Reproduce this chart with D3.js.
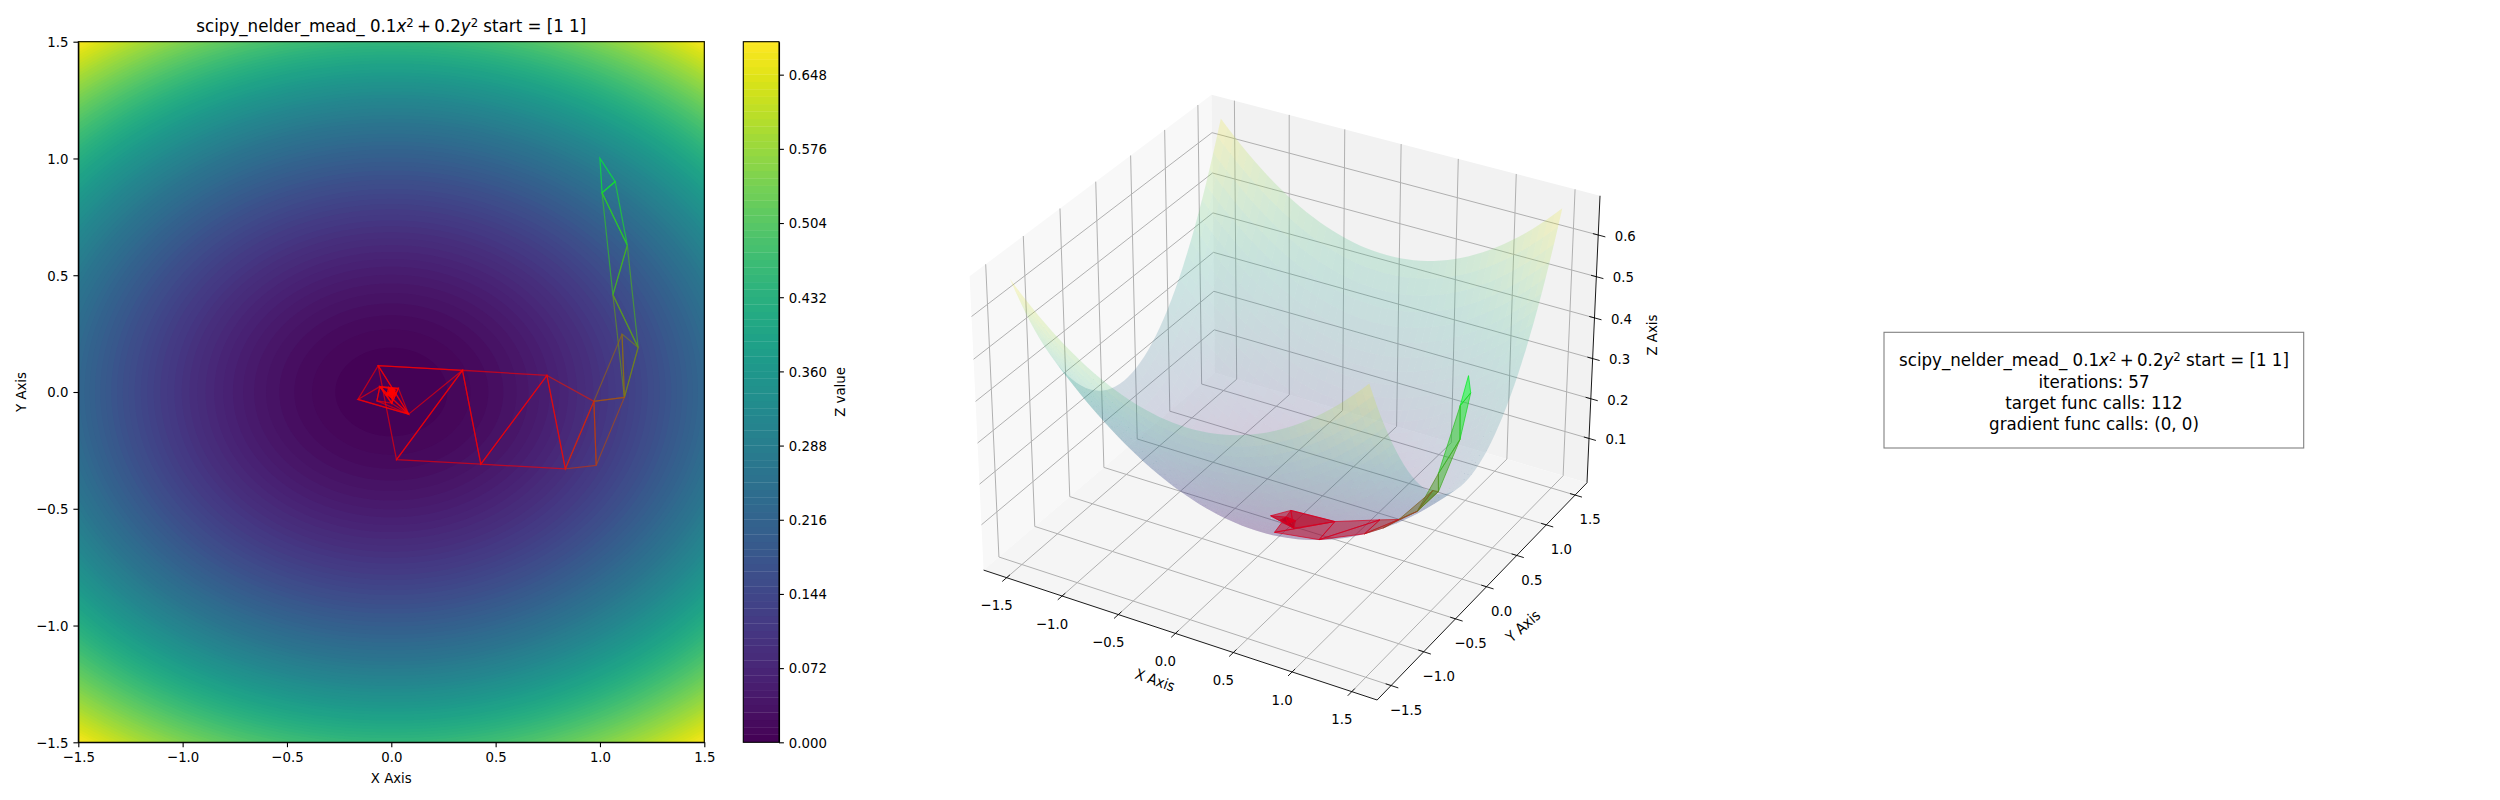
<!DOCTYPE html>
<html><head><meta charset="utf-8">
<script src="https://cdn.jsdelivr.net/npm/d3@7"></script>
<style>
html,body{margin:0;padding:0;background:#fff}
text{font-family:"DejaVu Sans",sans-serif;fill:#000}
</style></head><body>
<svg id="chart" width="2500" height="800" xmlns="http://www.w3.org/2000/svg"></svg>
<script>
// ---- data ----
const functionCoefficients = [0.1, 0.2];       // the surface named in the title: 0.1x^2 + 0.2y^2
const axisTicks = [-1.5, -1.0, -0.5, 0.0, 0.5, 1.0, 1.5];
const colorbarTicks = [0, 0.072, 0.144, 0.216, 0.288, 0.36, 0.432, 0.504, 0.576, 0.648];
const zTicks3D = [0.1, 0.2, 0.3, 0.4, 0.5, 0.6];
const colorbarMax = 0.68;
const contourStep = 0.0072;
const infoLines = ["iterations: 57", "target func calls: 112", "gradient func calls: (0, 0)"];
// Nelder-Mead vertices [x, y]
const vertices = [
 [1.000,1.000],[1.073,0.901],[1.010,0.853],[1.131,0.628],[1.062,0.416],[1.183,0.191],[1.106,0.248],
 [1.117,-0.023],[0.971,-0.040],[0.982,-0.314],[0.834,-0.329],[0.746,0.071],[0.429,-0.309],[0.341,0.093],
 [0.025,-0.290],[-0.063,0.113],[0.083,-0.095],[-0.160,-0.032],[-0.055,0.023],[-0.069,-0.038],
 [0.034,0.016],[0.002,-0.048],[0.012,0.012],[-0.022,-0.012],[0.020,-0.010],[-0.012,0.018],[0.004,-0.026],
 [0.016,0.006],[-0.014,-0.004],[0.006,0.012],[0.004,-0.012],[-0.006,0.006],[0.008,0.002],[-0.003,-0.006],
 [0.002,0.005],[0.002,-0.002],[-0.001,0.002],[0.000,0.000]
];
// simplices as vertex indices, in iteration order
const simplices = [
 [0,1,2],[1,2,3],[2,3,4],[3,4,5],[4,5,7],[5,6,7],[6,7,8],[7,8,9],[8,9,10],[8,10,11],[10,11,12],[11,12,13],
 [12,13,14],[13,14,15],[13,15,16],[15,16,17],[16,17,18],[16,18,19],[18,19,21],[18,20,21],[16,20,21],
 [18,20,22],[20,21,22],[21,22,23],[18,22,23],[22,23,24],[23,24,25],[22,24,25],[24,25,26],[23,25,26],
 [24,26,27],[25,26,27],[26,27,28],[25,27,28],[27,28,29],[26,28,30],[28,29,30],[27,29,30],[29,30,31],
 [28,30,31],[30,31,32],[29,31,32],[31,32,33],[30,32,33],[32,33,34],[31,33,34],[33,34,35],[32,34,35],
 [34,35,36],[33,35,36],[35,36,37],[34,36,37],[33,36,37],[35,36,37],[34,35,37],[33,35,37],[36,37,35]
];

// ---- helpers ----
const svg = d3.select("#chart");
const fZ = (x, y) => functionCoefficients[0]*x*x + functionCoefficients[1]*y*y;
const simplexColor = d3.scaleLinear().domain([0, 10]).range(["#00ff22", "#ff0000"]).clamp(true);
const faceColor = d3.scaleLinear().domain([0, 10]).range(["#00ff22", "#b80020"]).clamp(true);
const edgeColor = d3.scaleLinear().domain([0, 10]).range(["#00ee22", "#d80022"]).clamp(true);
const fs = 13.3, titleFs = 16.67;

function mathTitle(sel) {
  const add = (t, o = {}) => {
    const s = sel.append("tspan").text(t);
    if (o.italic) s.style("font-style", "italic");
    if (o.sup) s.attr("font-size", "0.7em").attr("dy", "-0.45em");
    if (o.dy) s.attr("dy", o.dy);
    return s;
  };
  add("scipy_nelder_mead_ 0.1"); add("x", {italic: true}); add("2", {sup: true});
  add("\u2009+\u20090.2", {dy: "0.315em"}); add("y", {italic: true}); add("2", {sup: true});
  add(" start = [1 1]", {dy: "0.315em"});
}

// ---- 2D panel ----
const x2 = d3.scaleLinear().domain([-1.5, 1.5]).range([78.3, 704.3]);
const y2 = d3.scaleLinear().domain([-1.5, 1.5]).range([742.3, 41.7]);
const color = v => d3.interpolateViridis(v / colorbarMax);
const levels = d3.range(0, Math.round(colorbarMax / contourStep) + 1).map(i => i * contourStep);

svg.append("clipPath").attr("id", "clip2").append("rect")
  .attr("x", x2.range()[0]).attr("y", y2.range()[1])
  .attr("width", x2.range()[1] - x2.range()[0]).attr("height", y2.range()[0] - y2.range()[1]);

const gridN = 301;
const gridValues = new Float64Array(gridN * gridN);
const gridCoord = d3.scaleLinear().domain([0, gridN - 1]).range([-1.5, 1.5]);
for (let j = 0; j < gridN; j++) for (let i = 0; i < gridN; i++)
  gridValues[j * gridN + i] = fZ(gridCoord(i), gridCoord(j));
const contours = d3.contours().size([gridN, gridN]).smooth(true).thresholds(levels)(gridValues);
const contourPath = d3.geoPath(d3.geoTransform({
  point(px, py) { this.stream.point(x2(gridCoord(px - 0.5)), y2(gridCoord(py - 0.5))); }
}));
const heat = svg.append("g").attr("clip-path", "url(#clip2)");
heat.append("rect").attr("x", x2.range()[0]).attr("y", y2.range()[1])
  .attr("width", x2.range()[1] - x2.range()[0]).attr("height", y2.range()[0] - y2.range()[1])
  .attr("fill", color(contourStep / 2));
heat.selectAll("path.band").data(contours).join("path").attr("class", "band")
  .attr("d", contourPath)
  .attr("fill", d => color(d.value + contourStep / 2));

const line2 = d3.line().x(d => x2(d[0])).y(d => y2(d[1]));
svg.append("g").attr("clip-path", "url(#clip2)").selectAll("path").data(simplices).join("path")
  .attr("d", s => line2(s.map(i => vertices[i])) + "Z")
  .attr("fill", "none")
  .attr("stroke", (s, i) => simplexColor(i))
  .attr("stroke-opacity", 0.62).attr("stroke-width", 1.25).attr("stroke-linejoin", "miter");

function styleAxis(g) {
  g.selectAll("text").attr("font-size", fs).attr("font-family", "DejaVu Sans").attr("fill", "#000");
  g.selectAll("line").attr("stroke", "#000").attr("stroke-width", 1.1);
  g.select(".domain").attr("stroke", "#000").attr("stroke-width", 1.1);
}
svg.append("g").attr("transform", `translate(0,${y2.range()[0]})`)
  .call(d3.axisBottom(x2).tickValues(axisTicks).tickFormat(d3.format(".1f")).tickSize(4.9).tickPadding(4.9).tickSizeOuter(0))
  .call(styleAxis);
svg.append("g").attr("transform", `translate(${x2.range()[0]},0)`)
  .call(d3.axisLeft(y2).tickValues(axisTicks).tickFormat(d3.format(".1f")).tickSize(4.9).tickPadding(4.9).tickSizeOuter(0))
  .call(styleAxis);
svg.append("rect").attr("x", x2.range()[0]).attr("y", y2.range()[1])
  .attr("width", x2.range()[1] - x2.range()[0]).attr("height", y2.range()[0] - y2.range()[1])
  .attr("fill", "none").attr("stroke", "#000").attr("stroke-width", 1.1);

svg.append("text").attr("x", 391.3).attr("y", 32).attr("text-anchor", "middle").attr("font-size", titleFs).call(mathTitle);
svg.append("text").attr("x", 391.3).attr("y", 782).attr("text-anchor", "middle").attr("font-size", fs).text("X Axis");
svg.append("text").attr("transform", "translate(25,392) rotate(-90)").attr("text-anchor", "middle").attr("font-size", fs).text("Y Axis");

// ---- colorbar ----
const cbX = [743.3, 779];
const yCb = d3.scaleLinear().domain([0, colorbarMax]).range(y2.range());
svg.append("g").selectAll("rect").data(levels).join("rect")
  .attr("x", cbX[0]).attr("width", cbX[1] - cbX[0])
  .attr("y", d => yCb(Math.min(d + contourStep, colorbarMax)) - 0.3)
  .attr("height", d => Math.max(0, yCb(d) - yCb(Math.min(d + contourStep, colorbarMax))) + 0.3)
  .attr("fill", d => color(d + contourStep / 2));
svg.append("g").attr("transform", `translate(${cbX[1]},0)`)
  .call(d3.axisRight(yCb).tickValues(colorbarTicks).tickFormat(d3.format(".3f")).tickSize(4.9).tickPadding(4.9).tickSizeOuter(0))
  .call(styleAxis);
svg.append("rect").attr("x", cbX[0]).attr("y", y2.range()[1]).attr("width", cbX[1] - cbX[0])
  .attr("height", y2.range()[0] - y2.range()[1]).attr("fill", "none").attr("stroke", "#000").attr("stroke-width", 1.1);
svg.append("text").attr("transform", "translate(844,392) rotate(-90)").attr("text-anchor", "middle").attr("font-size", fs).text("Z value");

// ---- 3D panel: matplotlib-style perspective ----
const xyExtent = [-1.71, 1.71], zExtent = [-0.013, 0.693];
const sx3 = d3.scaleLinear().domain(xyExtent).range([0, 1]);
const sz3 = d3.scaleLinear().domain(zExtent).range([0, 1]);
const boxNorm = Math.hypot(4, 4, 3), boxScale = 1.8294640721620434 / boxNorm;
const box = [4 * boxScale, 4 * boxScale, 3 * boxScale];
const elev = 30.7 * Math.PI / 180, azim = -60 * Math.PI / 180, dist = 10;
const R = box.map(b => b / 2);
const nv = [Math.cos(elev) * Math.cos(azim), Math.cos(elev) * Math.sin(azim), Math.sin(elev)];
const Eye = R.map((r, i) => r + dist * nv[i]);
const cross = (a, b) => [a[1]*b[2]-a[2]*b[1], a[2]*b[0]-a[0]*b[2], a[0]*b[1]-a[1]*b[0]];
const dot = (a, b) => a[0]*b[0]+a[1]*b[1]+a[2]*b[2];
const uu0 = cross([0,0,1], nv), un = Math.hypot(...uu0), uv = uu0.map(v => v / un), vv = cross(nv, uv);
function rawProject(x, y, z) {
  const p = [sx3(x) * box[0], sx3(y) * box[1], sz3(z) * box[2]];
  const d = [p[0]-Eye[0], p[1]-Eye[1], p[2]-Eye[2]];
  const w = -dot(d, nv);
  return [dot(d, uv) / w, dot(d, vv) / w, w];
}
const [xa, xb] = xyExtent, [za, zb] = zExtent;
const fitL = rawProject(xa, xa, za), fitRt = rawProject(xb, xb, za), fitB = rawProject(xb, xa, za), fitT = rawProject(xa, xb, zb);
const px3 = d3.scaleLinear().domain([fitL[0], fitRt[0]]).range([983.6, 1587]);
const py3 = d3.scaleLinear().domain([fitB[1], fitT[1]]).range([700, 94.7]);
const P = (x, y, z) => { const r = rawProject(x, y, z); return [px3(r[0]), py3(r[1]), r[2]]; };
const poly = pts => "M" + pts.map(p => p[0].toFixed(2) + "," + p[1].toFixed(2)).join("L") + "Z";
const seg = (a, b) => "M" + a[0].toFixed(2) + "," + a[1].toFixed(2) + "L" + b[0].toFixed(2) + "," + b[1].toFixed(2);

const g3 = svg.append("g");
// panes
const panes = [
  {c: "rgb(248,248,248)", p: [[xa,xa,za],[xa,xb,za],[xa,xb,zb],[xa,xa,zb]]},
  {c: "rgb(242,242,242)", p: [[xa,xb,za],[xb,xb,za],[xb,xb,zb],[xa,xb,zb]]},
  {c: "rgb(245,245,245)", p: [[xa,xa,za],[xb,xa,za],[xb,xb,za],[xa,xb,za]]}
];
g3.selectAll("path.pane").data(panes).join("path").attr("class", "pane")
  .attr("d", d => poly(d.p.map(q => P(...q)))).attr("fill", d => d.c);
// grid lines
const gridPaths = [];
axisTicks.forEach(t => {
  gridPaths.push(seg(P(t,xa,za), P(t,xb,za)) + seg(P(t,xb,za), P(t,xb,zb)));
  gridPaths.push(seg(P(xb,t,za), P(xa,t,za)) + seg(P(xa,t,za), P(xa,t,zb)));
});
zTicks3D.forEach(t => gridPaths.push(seg(P(xa,xa,t), P(xa,xb,t)) + seg(P(xa,xb,t), P(xb,xb,t))));
g3.selectAll("path.grid").data(gridPaths).join("path").attr("class", "grid").attr("d", d => d)
  .attr("fill", "none").attr("stroke", "rgb(176,176,176)").attr("stroke-width", 1);
// axis lines
const axisPaths = [seg(P(xa,xa,za), P(xb,xa,za)), seg(P(xb,xa,za), P(xb,xb,za)), seg(P(xb,xb,za), P(xb,xb,zb))];
g3.selectAll("path.ax").data(axisPaths).join("path").attr("class", "ax").attr("d", d => d)
  .attr("fill", "none").attr("stroke", "#000").attr("stroke-width", 0.9);
// ticks
const tickIn = 0.045, tickOut = 0.06;
const tickPaths = [
  ...axisTicks.map(t => seg(P(t, xa + tickIn, za), P(t, xa - tickOut, za))),
  ...axisTicks.map(t => seg(P(xb - tickIn, t, za), P(xb + tickOut, t, za))),
  ...zTicks3D.map(t => seg(P(xb - tickIn, xb, t), P(xb + tickOut, xb, t)))
];
g3.selectAll("path.tick").data(tickPaths).join("path").attr("class", "tick").attr("d", d => d)
  .attr("fill", "none").attr("stroke", "#000").attr("stroke-width", 0.9);
// tick labels
const lab = (p, t, rot) => {
  const s = g3.append("text").attr("text-anchor", "middle").attr("dominant-baseline", "central").attr("font-size", fs).text(t);
  s.attr("transform", `translate(${p[0]},${p[1]})` + (rot ? ` rotate(${rot})` : ""));
};
const f1 = d3.format(".1f");
const xLabelOffset = [-10, 27.5], yLabelOffset = [15, 24], zLabelOffset = [27, 0.5];
const off = (p, o) => [p[0] + o[0], p[1] + o[1]];
axisTicks.forEach(t => lab(off(P(t, xa, za), xLabelOffset), f1(t)));
axisTicks.forEach(t => lab(off(P(xb, t, za), yLabelOffset), f1(t)));
zTicks3D.forEach(t => lab(off(P(xb, xb, t), zLabelOffset), f1(t)));
lab([1155, 680], "X Axis", 19.5);
lab([1523, 626], "Y Axis", -41);
lab([1652, 335], "Z Axis", -90);

// surface
const surfaceAxis = d3.range(0, 51).map(i => gridCoord(i * 6));
const quads = [];
for (let i = 0; i < 50; i++) for (let j = 0; j < 50; j++) {
  const c = [[surfaceAxis[i],surfaceAxis[j]],[surfaceAxis[i+1],surfaceAxis[j]],[surfaceAxis[i+1],surfaceAxis[j+1]],[surfaceAxis[i],surfaceAxis[j+1]]]
    .map(q => [q[0], q[1], fZ(q[0], q[1])]);
  const pts = c.map(q => P(...q));
  quads.push({pts, z: d3.mean(c, q => q[2]), depth: d3.mean(pts, q => q[2])});
}
quads.sort((a, b) => b.depth - a.depth);
const zNorm = d3.scaleLinear().domain([0, fZ(1.5, 1.5)]).range([0, 1]);
g3.append("g").selectAll("path").data(quads).join("path")
  .attr("d", d => poly(d.pts)).attr("fill", d => d3.interpolateViridis(zNorm(d.z))).attr("fill-opacity", 0.2);
// simplices
g3.append("g").selectAll("path").data(simplices).join("path")
  .attr("d", s => poly(s.map(i => P(vertices[i][0], vertices[i][1], fZ(vertices[i][0], vertices[i][1])))))
  .attr("fill", (s, i) => faceColor(i)).attr("fill-opacity", 0.5)
  .attr("stroke", (s, i) => edgeColor(i)).attr("stroke-opacity", 0.8).attr("stroke-width", 0.9);

// ---- info box ----
const boxG = svg.append("g");
boxG.append("rect").attr("x", 1884).attr("y", 332.3).attr("width", 419.7).attr("height", 115.7)
  .attr("fill", "#fff").attr("stroke", "#808080").attr("stroke-width", 1.1);
boxG.append("text").attr("x", 2094).attr("y", 366).attr("text-anchor", "middle").attr("font-size", titleFs).call(mathTitle);
boxG.selectAll("text.l").data(infoLines).join("text").attr("class", "l")
  .attr("x", 2094).attr("y", (d, i) => 388 + i * 21).attr("text-anchor", "middle").attr("font-size", titleFs).text(d => d);

// the reference's hinted glyphs stand slightly taller than plain outlines
svg.selectAll("text").each(function () {
  const b = this.getBBox(), cx = b.x + b.width / 2, cy = b.y + b.height / 2;
  const k = +this.getAttribute("font-size") === titleFs ? 1.05 : 1.12;
  const old = this.getAttribute("transform") || "";
  this.setAttribute("transform", `${old} translate(${cx},${cy}) scale(1,${k}) translate(${-cx},${-cy})`);
});
</script>
</body></html>
